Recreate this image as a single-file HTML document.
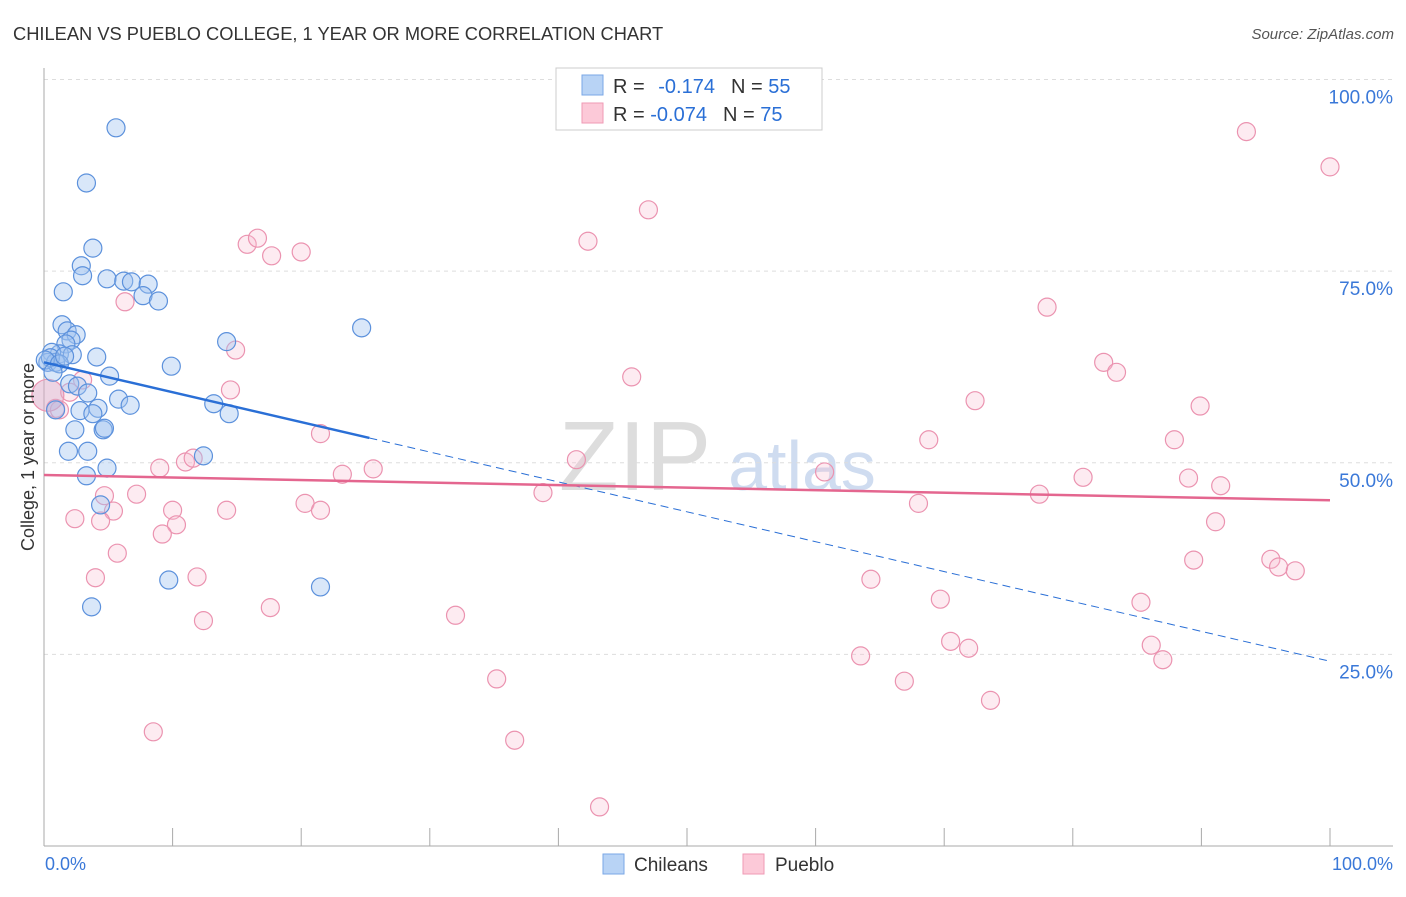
<!DOCTYPE html>
<html><head><meta charset="utf-8"><style>
body{margin:0;background:#fff;font-family:"Liberation Sans",sans-serif;}
svg text{font-family:"Liberation Sans",sans-serif;}
</style></head><body>
<svg id="chart" width="1406" height="892" xmlns="http://www.w3.org/2000/svg">
<text x="13" y="40" font-size="18.3" fill="#333">CHILEAN VS PUEBLO COLLEGE, 1 YEAR OR MORE CORRELATION CHART</text>
<text x="1394" y="39" font-size="15" fill="#555" font-style="italic" text-anchor="end">Source: ZipAtlas.com</text>
<text x="635" y="490" font-size="98" fill="#ddd" font-family="Liberation Serif" text-anchor="middle">ZIP</text>
<text x="802" y="490" font-size="70" fill="#cfdcf0" text-anchor="middle">atlas</text>
<g id="grid"></g>
<g id="axes"></g>
<g id="marks"></g>
<text transform="translate(34,457) rotate(-90)" font-size="18" fill="#333" text-anchor="middle">College, 1 year or more</text>
<g>
<rect x="556" y="68" width="266" height="62" fill="#fff" stroke="#ccc"/>
<rect x="582" y="75" width="21" height="20" fill="#b8d3f5" stroke="#7aa7e6"/>
<rect x="582" y="103" width="21" height="20" fill="#fcc9d8" stroke="#ef9ab5"/>
<text x="613" y="93" font-size="20" fill="#333">R = <tspan fill="#2a6fd6" dx="8">-0.174</tspan><tspan fill="#333" dx="16">N = </tspan><tspan fill="#2a6fd6">55</tspan></text>
<text x="613" y="121" font-size="20" fill="#333">R = <tspan fill="#2a6fd6">-0.074</tspan><tspan fill="#333" dx="16">N = </tspan><tspan fill="#2a6fd6">75</tspan></text>
</g>
<g>
<rect x="603" y="854" width="21" height="20" fill="#b8d3f5" stroke="#7aa7e6"/>
<text x="634" y="871" font-size="19" fill="#333">Chileans</text>
<rect x="743" y="854" width="21" height="20" fill="#fcc9d8" stroke="#ef9ab5"/>
<text x="775" y="871" font-size="19" fill="#333">Pueblo</text>
</g>
</svg>
<script>
const yTicks=[25,50,75,100];
const yTickLabels=["25.0%","50.0%","75.0%","100.0%"];
const xTickLabels=["0.0%","100.0%"];
const blueX=[5.6,3.3,3.8,2.9,3.0,4.9,6.2,6.8,8.1,7.7,8.9,1.5,24.7,1.4,1.8,2.5,2.1,14.2,1.7,1.2,2.2,0.6,0.3,0.9,4.1,9.9,5.1,2.0,2.6,3.4,5.8,6.7,13.2,0.9,2.8,4.2,3.8,14.4,2.4,4.6,4.7,1.9,3.4,12.4,4.9,3.3,4.4,9.7,21.5,3.7,0.5,0.1,1.2,0.7,1.6];
const blueY=[93.7,86.5,78.0,75.7,74.4,74.0,73.7,73.6,73.3,71.8,71.1,72.3,67.6,68.0,67.2,66.7,66.0,65.8,65.5,64.2,64.1,64.4,63.1,63.1,63.8,62.6,61.3,60.3,60.0,59.1,58.3,57.5,57.7,56.9,56.8,57.1,56.4,56.4,54.3,54.3,54.5,51.5,51.5,50.9,49.3,48.3,44.5,34.7,33.8,31.2,63.7,63.4,62.9,61.8,63.9];
const pinkX=[93.5,100,47.0,42.3,15.8,16.6,17.7,20.0,78.0,6.3,82.4,83.4,14.9,45.7,3.0,14.5,72.4,89.9,2.0,0.9,1.2,21.5,68.8,87.9,41.4,9.0,11.0,11.6,25.6,23.2,60.7,80.8,89.0,91.5,38.8,77.4,7.2,4.7,20.3,68.0,10.0,21.5,14.2,5.4,2.4,4.4,10.3,9.2,91.1,5.7,95.4,89.4,96.0,97.3,4.0,11.9,64.3,69.7,17.6,85.3,32.0,12.4,70.5,71.9,86.1,63.5,87.0,35.2,66.9,73.6,8.5,36.6,43.2,0.3];
const pinkY=[93.2,88.6,83.0,78.9,78.5,79.3,77.0,77.5,70.3,71.0,63.1,61.8,64.7,61.2,60.8,59.5,58.1,57.4,59.2,57.1,56.9,53.8,53.0,53.0,50.4,49.3,50.1,50.6,49.2,48.5,48.8,48.1,48.0,47.0,46.1,45.9,45.9,45.7,44.7,44.7,43.8,43.8,43.8,43.7,42.7,42.4,41.9,40.7,42.3,38.2,37.4,37.3,36.4,35.9,35.0,35.1,34.8,32.2,31.1,31.8,30.1,29.4,26.7,25.8,26.2,24.8,24.3,21.8,21.5,19.0,14.9,13.8,5.1,58.8];
const blueTrend=[63.1,24.1];
const pinkTrend=[48.4,45.1];
const blueSolidEnd=25.3;

const NS="http://www.w3.org/2000/svg";
const X0=44,X1=1330,Y0=846,Y100=79.5;
function sx(v){return X0+(X1-X0)*v/100;}
function sy(v){return Y0-(Y0-Y100)*v/100;}
function mk(tag,attrs,parent){const e=document.createElementNS(NS,tag);for(const k in attrs)e.setAttribute(k,attrs[k]);parent.appendChild(e);return e;}
const grid=document.getElementById('grid'),axes=document.getElementById('axes'),marks=document.getElementById('marks');
yTicks.forEach((t,i)=>{
  const l=mk('line',{x1:X0,x2:1393,y1:sy(t),y2:sy(t),stroke:'#ddd','stroke-dasharray':'4,4'},grid);
  
  
  const tx=mk('text',{x:1393,y:sy(t)+24,'font-size':19,fill:'#3a78d8','text-anchor':'end'},axes);
  tx.textContent=yTickLabels[i];
  
  
});
const ya=mk('line',{x1:X0,x2:X0,y1:68,y2:Y0,stroke:'#aaa'},axes);


const xa=mk('line',{x1:X0,x2:1393,y1:Y0,y2:Y0,stroke:'#aaa'},axes);


for(let i=0;i<=10;i++){
  const t=mk('line',{x1:sx(i*10),x2:sx(i*10),y1:Y0,y2:Y0-18,stroke:'#aaa'},axes);
  
  
}
[[0,'start',45],[100,'end',1393]].forEach((p,i)=>{
  const tx=mk('text',{x:p[2],y:870,'font-size':18,fill:'#3a78d8','text-anchor':p[1]},axes);
  tx.textContent=xTickLabels[i];
  
  
});
pinkX.forEach((x,i)=>{
  const big=i===pinkX.length-1;
  const c=mk('circle',{cx:sx(x),cy:sy(pinkY[i]),r:big?16:9,fill:big?'rgba(220,170,200,0.5)':'rgba(248,190,210,0.3)',stroke:'#eb93b0','stroke-width':1.2},marks);
  
  
});
blueX.forEach((x,i)=>{
  const c=mk('circle',{cx:sx(x),cy:sy(blueY[i]),r:9,fill:'rgba(160,195,240,0.4)',stroke:'#5c91dc','stroke-width':1.2},marks);
  
  
});
function ty(tr,x){return tr[0]+(tr[1]-tr[0])*x/100;}
const bs=mk('line',{x1:sx(0),y1:sy(blueTrend[0]),x2:sx(blueSolidEnd),y2:sy(ty(blueTrend,blueSolidEnd)),stroke:'#2a6fd6','stroke-width':2.5},marks);


const bd=mk('line',{x1:sx(blueSolidEnd),y1:sy(ty(blueTrend,blueSolidEnd)),x2:sx(100),y2:sy(blueTrend[1]),stroke:'#2a6fd6','stroke-width':1,'stroke-dasharray':'8,5'},marks);


const pl=mk('line',{x1:sx(0),y1:sy(pinkTrend[0]),x2:sx(100),y2:sy(pinkTrend[1]),stroke:'#e4668f','stroke-width':2.5},marks);


</script>
</body></html>
